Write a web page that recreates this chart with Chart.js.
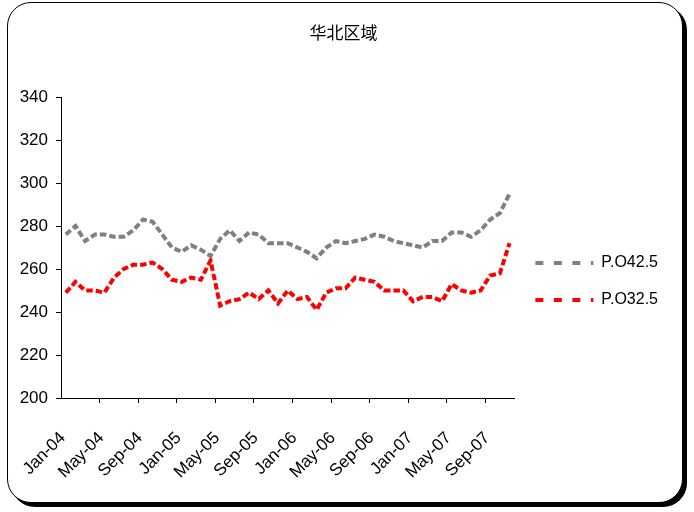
<!DOCTYPE html>
<html>
<head>
<meta charset="utf-8">
<script src="https://cdn.jsdelivr.net/npm/chart.js@4/dist/chart.umd.min.js"></script>
<style>
  html, body { margin: 0; padding: 0; background: #fff; }
  #wrap { position: relative; width: 694px; height: 512px; overflow: hidden; }
  #frame {
    position: absolute; left: 7px; top: 2px; width: 674px; height: 499px;
    border: 1px solid #000; border-radius: 24px; box-shadow: 4px 4px 0 #000; background: #fff;
  }
  #c { position: absolute; left: 0; top: 0; }
</style>
</head>
<body>
<div id="wrap">
  <div id="frame"></div>
  <canvas id="c" width="694" height="512"></canvas>
</div>
<script>
const titleText = '华北区域';
const months = [
  'Jan-04','Feb-04','Mar-04','Apr-04','May-04','Jun-04','Jul-04','Aug-04','Sep-04','Oct-04','Nov-04','Dec-04',
  'Jan-05','Feb-05','Mar-05','Apr-05','May-05','Jun-05','Jul-05','Aug-05','Sep-05','Oct-05','Nov-05','Dec-05',
  'Jan-06','Feb-06','Mar-06','Apr-06','May-06','Jun-06','Jul-06','Aug-06','Sep-06','Oct-06','Nov-06','Dec-06',
  'Jan-07','Feb-07','Mar-07','Apr-07','May-07','Jun-07','Jul-07','Aug-07','Sep-07','Oct-07','Nov-07'
];
const seriesNames = ['P.O42.5', 'P.O32.5'];
const po425 = [
  276, 280, 273, 276, 276, 275, 275, 278, 283, 282, 276, 270,
  268, 271, 269, 266, 274, 278, 273, 277, 276, 272, 272, 272,
  270, 268, 265, 270, 273, 272, 273, 274, 276, 275, 273, 272,
  271, 270, 273, 273, 277, 277, 275, 278, 283, 286, 295
];
const po325 = [
  249, 254, 250, 250, 249, 256, 260, 262, 262, 263, 260, 255,
  254, 256, 255, 264, 243, 245, 246, 249, 246, 250, 244, 250,
  246, 247, 241, 249, 251, 251, 256, 255, 254, 250, 250, 250,
  245, 247, 247, 245, 253, 250, 249, 250, 257, 258, 272
];
const yMin = 200, yMax = 340, yStep = 20;
const labelEvery = 4;

Chart.defaults.color = '#000';
Chart.defaults.font.family = "'Liberation Sans', Arial, sans-serif";

new Chart(document.getElementById('c'), {
  type: 'line',
  data: {
    labels: months,
    datasets: [
      { label: seriesNames[0], data: po425, borderColor: '#808080', backgroundColor: '#808080',
        borderWidth: 4, borderDash: [6.5, 3], pointRadius: 0, tension: 0, borderCapStyle: 'butt' },
      { label: seriesNames[1], data: po325, borderColor: '#ff0000', backgroundColor: '#ff0000',
        borderWidth: 4, borderDash: [6.5, 3], pointRadius: 0, tension: 0, borderCapStyle: 'butt' }
    ]
  },
  options: {
    responsive: false,
    animation: false,
    layout: { padding: { left: 19, right: 26, top: 0, bottom: 0 } },
    plugins: {
      tooltip: { enabled: false },
      title: {
        display: true, text: titleText, color: '#000',
        font: { family: "'Noto Sans CJK SC', sans-serif", size: 17, weight: 'normal' },
        padding: { top: 22, bottom: 54.6 }
      },
      legend: {
        position: 'right',
        title: { display: true, text: ' ', font: { size: 12 }, padding: { top: 36.6, bottom: 0 } },
        labels: {
          usePointStyle: true, pointStyle: 'line', pointStyleWidth: 58,
          padding: 21, color: '#000',
          font: { size: 16 },
          generateLabels(chart) {
            const items = Chart.defaults.plugins.legend.labels.generateLabels(chart);
            items.forEach(it => { it.lineDash = [8, 10.5]; it.lineDashOffset = 0; it.pointStyle = 'line'; });
            return items;
          }
        }
      }
    },
    scales: {
      x: {
        type: 'category',
        offset: true,
        border: { display: true, color: '#000', width: 1 },
        grid: {
          offset: true, drawOnChartArea: false, drawTicks: true, tickLength: 5,
          tickColor: (ctx) => (ctx.index > 0 && ctx.index % labelEvery === 0) ? '#000' : 'rgba(0,0,0,0)'
        },
        ticks: {
          autoSkip: false, maxRotation: 45, minRotation: 45, padding: 25, labelOffset: -3,
          font: { size: 17 }, color: '#000',
          callback: (v, i) => (i % labelEvery === 0 ? months[i] : '')
        },
        afterFit: (s) => { s.height = 114; }
      },
      y: {
        min: yMin, max: yMax,
        border: { display: true, color: '#000', width: 1 },
        grid: { drawOnChartArea: false, drawTicks: true, tickLength: 5, tickColor: '#000' },
        ticks: { stepSize: yStep, padding: 8, font: { size: 17 }, color: '#000' },
        afterFit: (s) => { s.width = 42; }
      }
    }
  }
});
</script>
</body>
</html>
